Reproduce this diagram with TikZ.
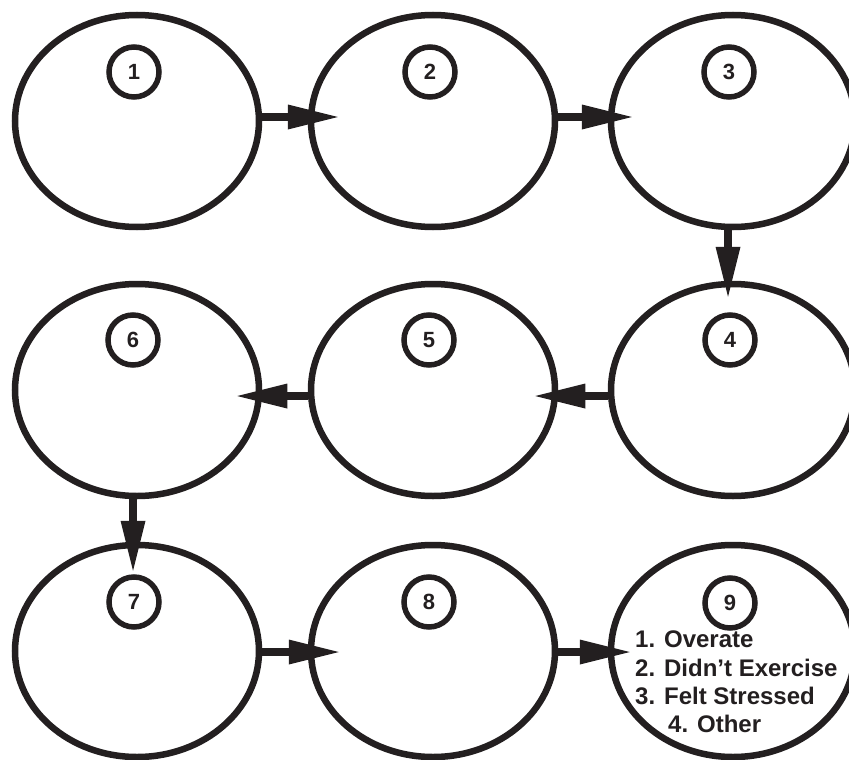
\documentclass[tikz,border=0pt]{standalone}
\usepackage{fontspec}
\setmainfont{Liberation Sans}
\usetikzlibrary{shapes.geometric,arrows.meta,calc}
\definecolor{ink}{RGB}{35,31,32}
\tikzset{
  ell/.style={ellipse, draw=ink, line width=6.5pt, minimum width=244pt, minimum height=212pt, inner sep=0pt},
  numc/.style={circle, draw=ink, line width=5.5pt, minimum size=50pt, inner sep=0pt, text=ink, font=\fontsize{22}{26}\selectfont\bfseries},
  arr/.style={draw=ink, line width=7.5pt, -{Triangle[length=50pt,width=25pt,line width=0pt]}},
  listtxt/.style={anchor=base west, inner sep=0pt, text=ink, font=\fontsize{24}{28}\selectfont\bfseries}
}
\begin{document}
\begin{tikzpicture}[x=1pt,y=-1pt]
\clip (0,0) rectangle (849,760);
\fill[white] (0,0) rectangle (849,760);
% ellipses
\node[ell] (e1) at (137,121) {};
\node[ell] (e2) at (433,121) {};
\node[ell] (e3) at (733,121) {};
\node[ell] (e4) at (733,390) {};
\node[ell] (e5) at (433,390) {};
\node[ell] (e6) at (137,390) {};
\node[ell] (e7) at (137,651) {};
\node[ell] (e8) at (433,651) {};
\node[ell] (e9) at (733,651) {};
% number circles
\node[numc] (n1) at (134,72) {1};
\node[numc] (n2) at (430,72) {2};
\node[numc] (n3) at (729,72) {3};
\node[numc] (n4) at (730,340) {4};
\node[numc] (n5) at (429,340) {5};
\node[numc] (n6) at (133,340) {6};
\node[numc] (n7) at (134,602) {7};
\node[numc] (n8) at (429,602) {8};
\node[numc] (n9) at (730,603) {9};
% connectors
\draw[arr] ($(e1.east)+(0,-4)$) -- ($(e2.west)+(30,-4)$);
\draw[arr] ($(e2.east)+(0,-4)$) -- ($(e3.west)+(24,-4)$);
\draw[arr] ($(e3.south)+(-5,0)$) -- ($(e4.north)+(-5,16)$);
\draw[arr] ($(e4.west)+(0,6)$) -- ($(e5.east)+(-23,6)$);
\draw[arr] ($(e5.west)+(0,6)$) -- ($(e6.east)+(-25,6)$);
\draw[arr] ($(e6.south)+(-4,0)$) -- ($(e7.north)+(-4,29)$);
\draw[arr] ($(e7.east)+(0,1)$) -- ($(e8.west)+(31,1)$);
\draw[arr] ($(e8.east)+(0,1)$) -- ($(e9.west)+(22,1)$);
% list in ellipse 9
\node[listtxt] (t1) at (635,647) {1. Overate};
\node[listtxt] (t2) at (635,676) {2. Didn’t Exercise};
\node[listtxt] (t3) at (635,704) {3. Felt Stressed};
\node[listtxt] (t4) at (668,732) {4. Other};
\end{tikzpicture}
\end{document}
